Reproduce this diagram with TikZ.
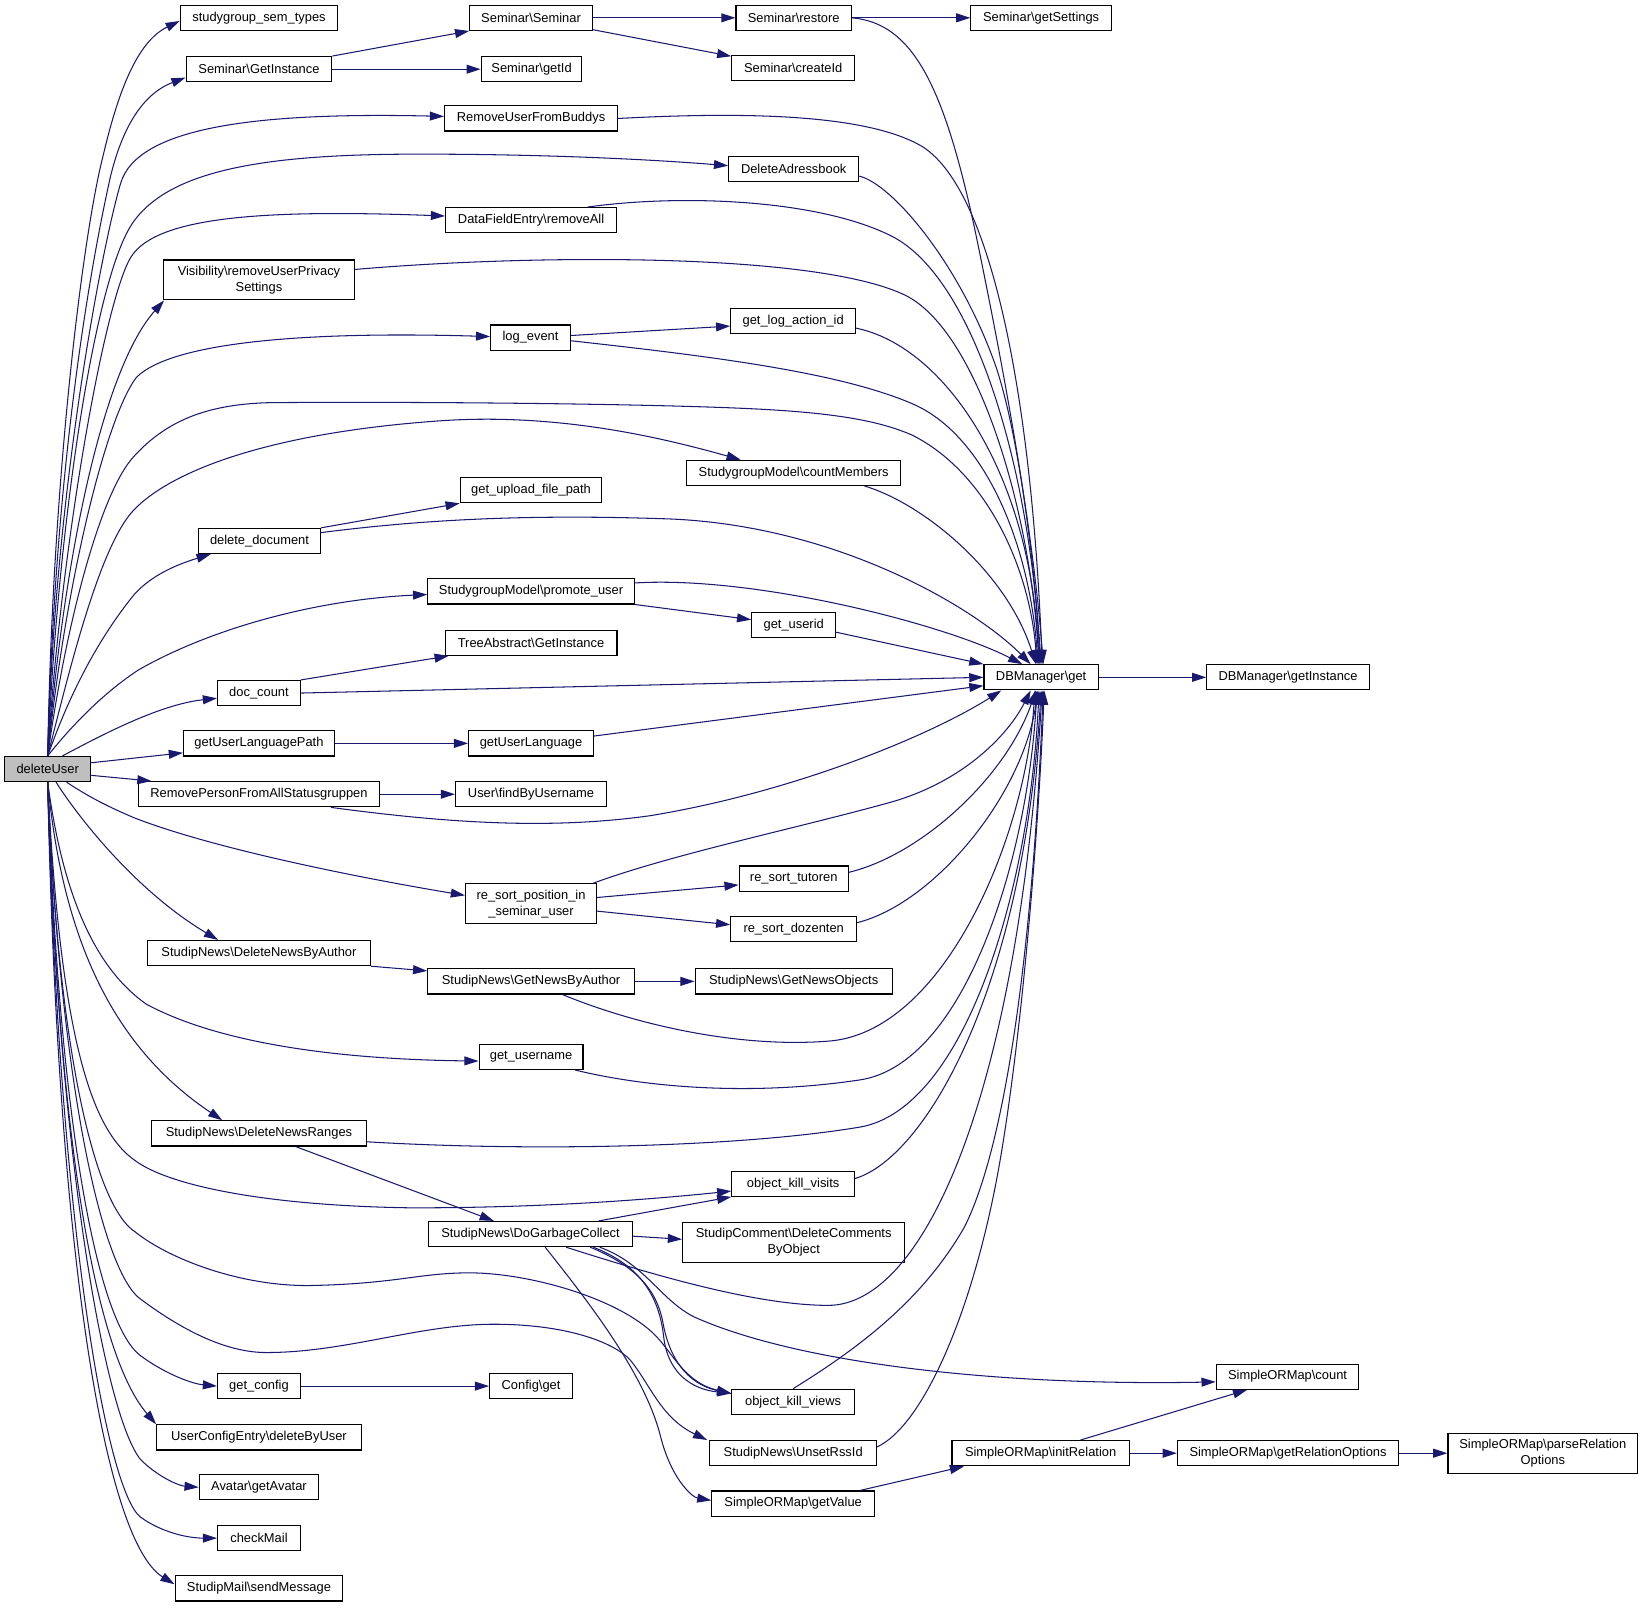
\documentclass[tikz,border=0pt]{standalone}
\usepackage{fontspec}
\setmainfont{Liberation Sans}
\usetikzlibrary{arrows.meta}
\definecolor{callblue}{HTML}{191970}
\definecolor{rootgray}{HTML}{BFBFBF}
\newcommand{\bsl}{\textbackslash}
\tikzstyle{fn}=[rectangle,draw=black,line width=1.1pt,fill=white,align=center,font=\fontsize{12.3}{15}\selectfont,minimum height=24pt,inner sep=0pt]
\tikzstyle{fntwo}=[fn,minimum height=38pt]
\tikzstyle{call}=[->,draw=callblue,line width=1pt]

\begin{document}
\begin{tikzpicture}[x=1pt,y=-1pt,>={Triangle[length=13.5pt,width=8.5pt]}]
	\useasboundingbox (0,0) rectangle (1568,1534);

	% Root
	\node[fn,minimum width=82pt,fill=rootgray] (du) at (45.5,733.5) {deleteUser};

	% Level 1
	\node[fn,minimum width=150pt] (sgt) at (247,17) {studygroup\_sem\_types};
	\node[fn,minimum width=139pt] (sgi) at (247,66) {Seminar\bsl GetInstance};
	\node[fntwo,minimum width=182pt] (vis) at (247,267) {Visibility\bsl removeUserPrivacy\\Settings};
	\node[fn,minimum width=116pt] (deldoc) at (247.5,516) {delete\_document};
	\node[fn,minimum width=79pt] (doccnt) at (247,661) {doc\_count};
	\node[fn,minimum width=144pt] (ulp) at (247,709) {getUserLanguagePath};
	\node[fn,minimum width=230pt] (rpfa) at (247,757.5) {RemovePersonFromAllStatusgruppen};
	\node[fn,minimum width=213pt] (dnba) at (247,909) {StudipNews\bsl DeleteNewsByAuthor};
	\node[fn,minimum width=205pt] (dnr) at (247,1081) {StudipNews\bsl DeleteNewsRanges};
	\node[fn,minimum width=79pt] (gcfg) at (247,1322) {get\_config};
	\node[fn,minimum width=195pt] (uce) at (247,1371) {UserConfigEntry\bsl deleteByUser};
	\node[fn,minimum width=114pt] (avatar) at (247,1418.5) {Avatar\bsl getAvatar};
	\node[fn,minimum width=79pt] (chkmail) at (247,1467) {checkMail};
	\node[fn,minimum width=160pt] (sendmsg) at (247,1515) {StudipMail\bsl sendMessage};

	% Level 2
	\node[fn,minimum width=117pt] (ssem) at (506.5,17) {Seminar\bsl Seminar};
	\node[fn,minimum width=96pt] (sgetid) at (507,66) {Seminar\bsl getId};
	\node[fn,minimum width=165pt] (rufb) at (506.5,113) {RemoveUserFromBuddys};
	\node[fn,minimum width=163pt] (dfe) at (506.5,210) {DataFieldEntry\bsl removeAll};
	\node[fn,minimum width=76pt] (logev) at (506,322) {log\_event};
	\node[fn,minimum width=135pt] (ufp) at (506.5,467.5) {get\_upload\_file\_path};
	\node[fn,minimum width=197pt] (promote) at (506.5,564) {StudygroupModel\bsl promote\_user};
	\node[fn,minimum width=164pt] (tagi) at (506.5,613) {TreeAbstract\bsl GetInstance};
	\node[fn,minimum width=119pt] (ulang) at (506.5,709) {getUserLanguage};
	\node[fn,minimum width=144pt] (findu) at (506.5,757.5) {User\bsl findByUsername};
	\node[fntwo,minimum width=125pt] (rsp) at (506.5,862) {re\_sort\_position\_in\\\_seminar\_user};
	\node[fn,minimum width=197pt] (gnba) at (506.5,936) {StudipNews\bsl GetNewsByAuthor};
	\node[fn,minimum width=99pt] (guser) at (506.5,1008) {get\_username};
	\node[fn,minimum width=194pt] (dogc) at (506,1177) {StudipNews\bsl DoGarbageCollect};
	\node[fn,minimum width=79pt] (cfgget) at (506.5,1322) {Config\bsl get};

	% Level 3
	\node[fn,minimum width=110pt] (srest) at (757,17) {Seminar\bsl restore};
	\node[fn,minimum width=117pt] (screate) at (756.5,65) {Seminar\bsl createId};
	\node[fn,minimum width=124pt] (dab) at (757,161) {DeleteAdressbook};
	\node[fn,minimum width=119pt] (logact) at (756.5,306) {get\_log\_action\_id};
	\node[fn,minimum width=204pt] (cntmem) at (757,451) {StudygroupModel\bsl countMembers};
	\node[fn,minimum width=80pt] (guid) at (757,596) {get\_userid};
	\node[fn,minimum width=104pt] (rstut) at (757,838) {re\_sort\_tutoren};
	\node[fn,minimum width=120pt] (rsdoz) at (757,886) {re\_sort\_dozenten};
	\node[fn,minimum width=188pt] (gno) at (757,936) {StudipNews\bsl GetNewsObjects};
	\node[fn,minimum width=117pt] (okvis) at (756.5,1129) {object\_kill\_visits};
	\node[fntwo,minimum width=212pt] (delcom) at (757,1185) {StudipComment\bsl DeleteComments\\ByObject};
	\node[fn,minimum width=117pt] (okview) at (756.5,1337) {object\_kill\_views};
	\node[fn,minimum width=159pt] (unset) at (756.5,1386) {StudipNews\bsl UnsetRssId};
	\node[fn,minimum width=155pt] (getval) at (756.5,1434) {SimpleORMap\bsl getValue};

	% Level 4 and beyond
	\node[fn,minimum width=134pt] (getset) at (993,17) {Seminar\bsl getSettings};
	\node[fn,minimum width=109pt] (dbget) at (993,646) {DBManager\bsl get};
	\node[fn,minimum width=169pt] (initrel) at (992.5,1386) {SimpleORMap\bsl initRelation};
	\node[fn,minimum width=155pt] (dbinst) at (1228.5,646) {DBManager\bsl getInstance};
	\node[fn,minimum width=136pt] (ormcnt) at (1228,1313) {SimpleORMap\bsl count};
	\node[fn,minimum width=211pt] (relopt) at (1228.5,1386) {SimpleORMap\bsl getRelationOptions};
	\node[fntwo,minimum width=181pt] (parserel) at (1471.5,1386) {SimpleORMap\bsl parseRelation\\Options};

	% deleteUser, upwards
	\draw[call] (du.north) .. controls (50,450) and (80,220) .. (98,150) .. controls (112,90) and (130,40) .. ([yshift=-3pt]sgt.west);
	\draw[call] (du.north) .. controls (52,450) and (85,260) .. (105,170) .. controls (118,115) and (140,88) .. ([yshift=-8pt]sgi.west);
	\draw[call] (du.north) .. controls (52,470) and (97,236) .. (115,175) .. controls (131,120) and (250,107) .. ([yshift=2pt]rufb.west);
	\draw[call] (du.north) .. controls (55,500) and (90,270) .. (125,215) .. controls (160,160) and (260,147) .. (400,147) .. controls (520,147) and (620,152) .. ([yshift=3pt]dab.west);
	\draw[call] (du.north) .. controls (58,520) and (100,285) .. (125,245) .. controls (150,205) and (260,200) .. ([yshift=4pt]dfe.west);
	\draw[call] (du.north) .. controls (62,520) and (100,350) .. ([xshift=1pt]vis.south west);
	\draw[call] (du.north) .. controls (62,560) and (100,400) .. (130,360) .. controls (165,325) and (300,316) .. ([yshift=1pt]logev.west);
	\draw[call] (du.north) .. controls (62,600) and (95,470) .. (128,435) .. controls (160,400) and (200,385) .. (260,384) .. controls (400,383) and (620,385) .. (720,390) .. controls (800,394) and (840,402) .. (870,415) .. controls (940,450) and (982,540) .. ([xshift=-4pt]dbget.north);
	\draw[call] (du.north) .. controls (66,640) and (95,520) .. (128,486) .. controls (165,448) and (260,412) .. (425,401) .. controls (540,394) and (640,420) .. ([xshift=52pt]cntmem.north west);
	\draw[call] (du.north) .. controls (60,680) and (85,620) .. (128,567) .. controls (145,548) and (170,538) .. ([xshift=12pt]deldoc.south west);
	\draw[call] (du.north) .. controls (70,690) and (100,660) .. (132,639) .. controls (200,600) and (300,572) .. ([yshift=-3pt]promote.west);
	\draw[call] ([xshift=14pt]du.north) .. controls (90,705) and (150,672) .. ([yshift=-5pt]doccnt.west);
	\draw[call] ([yshift=6pt]du.east) -- ([yshift=-9pt]ulp.west);
	\draw[call] ([yshift=-6pt]du.east) -- ([xshift=13pt]rpfa.north west);

	% deleteUser, downwards
	\draw[call] ([xshift=18pt]du.south) .. controls (85,760) and (100,768) .. (128,780) .. controls (200,808) and (330,835) .. ([yshift=8pt]rsp.west);
	\draw[call] ([xshift=8pt]du.south) .. controls (75,780) and (130,850) .. ([xshift=68pt]dnba.north west);
	\draw[call] (du.south) .. controls (58,840) and (85,920) .. (140,958) .. controls (200,990) and (300,1010) .. ([yshift=-4pt]guser.west);
	\draw[call] (du.south) .. controls (60,900) and (110,1000) .. ([xshift=68pt]dnr.north west);
	\draw[call] (du.south) .. controls (58,1000) and (90,1080) .. (129,1107) .. controls (160,1130) and (250,1150) .. (393,1152) .. controls (520,1152) and (620,1144) .. ([yshift=-7pt]okvis.west);
	\draw[call] (du.south) .. controls (55,1000) and (90,1150) .. (129,1175) .. controls (160,1200) and (230,1228) .. (300,1226) .. controls (380,1224) and (400,1214) .. (448,1214) .. controls (500,1214) and (580,1235) .. (619,1268) .. controls (640,1285) and (650,1318) .. ([yshift=8pt]okview.west);
	\draw[call] (du.south) .. controls (58,1050) and (100,1215) .. (134,1239) .. controls (165,1262) and (210,1290) .. (254,1290) .. controls (330,1290) and (400,1263) .. (471,1263) .. controls (540,1263) and (585,1280) .. (601,1297) .. controls (620,1320) and (630,1352) .. ([xshift=-2pt]unset.north west);
	\draw[call] (du.south) .. controls (55,1050) and (90,1260) .. (134,1293) .. controls (160,1312) and (185,1320) .. (gcfg.west);
	\draw[call] (du.south) .. controls (55,1080) and (90,1290) .. (uce.north west);
	\draw[call] (du.south) .. controls (55,1100) and (100,1350) .. (134,1392) .. controls (150,1408) and (170,1417) .. (avatar.west);
	\draw[call] (du.south) .. controls (55,1150) and (100,1420) .. (134,1447) .. controls (155,1462) and (180,1467) .. (chkmail.west);
	\draw[call] (du.south) .. controls (55,1200) and (100,1470) .. ([yshift=4pt]sendmsg.west);

	% Seminar
	\draw[call] (sgi.north east) -- (ssem.south west);
	\draw[call] (sgi) -- (sgetid);
	\draw[call] (ssem) -- (srest);
	\draw[call] (ssem) -- (screate);
	\draw[call] (srest) -- (getset);

	% Level 1 to level 2
	\draw[call] (deldoc.north east) -- (ufp.south west);
	\draw[call] (promote.south east) -- ([yshift=5pt]guid.west);
	\draw[call] (doccnt.north east) -- ([xshift=4pt]tagi.south west);
	\draw[call] (ulp) -- (ulang);
	\draw[call] (rpfa) -- (findu);
	\draw[call] ([yshift=2pt]logev.east) -- ([yshift=-5pt]logact.west);
	\draw[call] ([yshift=6pt]rsp.east) -- ([yshift=-6pt]rstut.west);
	\draw[call] ([yshift=-7pt]rsp.east) -- ([yshift=4pt]rsdoz.west);
	\draw[call] (dnba.south east) -- ([yshift=10pt]gnba.west);
	\draw[call] (gnba) -- (gno);
	\draw[call] ([xshift=35pt]dnr.south) -- ([xshift=-35pt]dogc.north);
	\draw[call] (gcfg) -- (cfgget);

	% DoGarbageCollect
	\draw[call] ([xshift=65pt]dogc.north) -- (okvis.south west);
	\draw[call] ([yshift=-2pt]dogc.east) -- ([yshift=3pt]delcom.west);
	\draw[call] ([xshift=57pt]dogc.south) .. controls (600,1205) and (625,1225) .. (632,1260) .. controls (638,1295) and (655,1320) .. ([yshift=8pt]okview.west);
	\draw[call] ([xshift=60pt]dogc.south) .. controls (605,1205) and (628,1230) .. (633,1275) .. controls (637,1310) and (660,1325) .. ([yshift=8pt]okview.west);
	\draw[call] ([xshift=66pt]dogc.south) .. controls (615,1205) and (630,1240) .. (662,1256) .. controls (760,1300) and (950,1322) .. ([yshift=-5pt]ormcnt.west);
	\draw[call] ([xshift=14pt]dogc.south) .. controls (560,1240) and (615,1310) .. (630,1370) .. controls (640,1410) and (660,1428) .. ([yshift=3pt]getval.west);

	% SimpleORMap
	\draw[call] ([xshift=-14pt]getval.north east) -- ([xshift=12pt]initrel.south west);
	\draw[call] ([xshift=38pt]initrel.north) -- ([xshift=30pt]ormcnt.south west);
	\draw[call] (initrel) -- (relopt);
	\draw[call] (relopt) -- (parserel);

	% DBManager, from above
	\draw[call] (srest.east) .. controls (870,22) and (900,80) .. (930,220) .. controls (955,340) and (985,500) .. ([xshift=2pt]dbget.north);
	\draw[call] (rufb.east) .. controls (720,106) and (830,110) .. (880,140) .. controls (950,185) and (985,400) .. ([xshift=1pt]dbget.north);
	\draw[call] ([yshift=-7pt]dab.east) .. controls (850,175) and (915,250) .. (950,350) .. controls (970,410) and (985,520) .. (dbget.north);
	\draw[call] ([xshift=-28pt]dfe.north east) .. controls (650,185) and (780,190) .. (850,225) .. controls (930,265) and (983,450) .. ([xshift=-1pt]dbget.north);
	\draw[call] ([yshift=10pt]vis.east) .. controls (500,243) and (770,240) .. (860,280) .. controls (930,310) and (982,480) .. ([xshift=-2pt]dbget.north);
	\draw[call] ([yshift=-3pt]logev.east) .. controls (680,340) and (800,355) .. (870,385) .. controls (940,415) and (982,520) .. ([xshift=-3pt]dbget.north);
	\draw[call] ([yshift=-7pt]logact.east) .. controls (900,330) and (983,450) .. ([xshift=-2pt]dbget.north);
	\draw[call] ([xshift=-35pt]cntmem.south east) .. controls (880,480) and (960,545) .. ([xshift=-5pt]dbget.north);
	\draw[call] ([yshift=8pt]deldoc.east) .. controls (400,496) and (500,490) .. (640,495) .. controls (800,502) and (930,580) .. ([xshift=-10pt]dbget.north);
	\draw[call] ([yshift=8pt]promote.east) .. controls (720,549) and (900,595) .. ([xshift=-18pt]dbget.north);
	\draw[call] ([yshift=-7pt]guid.east) -- (dbget.north west);
	\draw[call] (doccnt.east) -- (dbget.west);
	\draw[call] ([yshift=7pt]ulang.east) -- ([yshift=-8pt]dbget.west);

	% DBManager, from below
	\draw[call] ([xshift=-47pt]rpfa.south east) .. controls (420,784) and (520,792) .. (620,778) .. controls (760,755) and (890,700) .. ([xshift=-38pt]dbget.south);
	\draw[call] ([xshift=-4pt]rsp.north east) .. controls (640,815) and (760,790) .. (850,765) .. controls (920,745) and (962,700) .. ([xshift=-10pt]dbget.south);
	\draw[call] ([yshift=6pt]rstut.east) .. controls (880,815) and (960,740) .. ([xshift=-5pt]dbget.south);
	\draw[call] ([yshift=6pt]rsdoz.east) .. controls (890,862) and (975,760) .. ([xshift=-3pt]dbget.south);
	\draw[call] ([xshift=30pt]gnba.south) .. controls (600,975) and (700,1000) .. (790,993) .. controls (900,985) and (978,800) .. ([xshift=-6pt]dbget.south);
	\draw[call] ([xshift=-8pt]guser.south east) .. controls (620,1038) and (720,1045) .. (820,1030) .. controls (920,1015) and (980,820) .. ([xshift=-4pt]dbget.south);
	\draw[call] ([yshift=-8pt]dnr.east) .. controls (500,1098) and (700,1095) .. (820,1075) .. controls (920,1058) and (982,850) .. ([xshift=-2pt]dbget.south);
	\draw[call] ([yshift=5pt]okvis.east) .. controls (880,1105) and (975,950) .. (dbget.south);
	\draw[call] ([xshift=34pt]dogc.south) .. controls (620,1215) and (720,1245) .. (790,1245) .. controls (880,1245) and (970,1050) .. ([xshift=1pt]dbget.south);
	\draw[call] (okview.north) .. controls (820,1285) and (880,1240) .. (920,1170) .. controls (960,1090) and (985,900) .. ([xshift=2pt]dbget.south);
	\draw[call] ([yshift=6pt]unset.east) .. controls (880,1360) and (930,1250) .. (955,1100) .. controls (975,980) and (990,800) .. ([xshift=3pt]dbget.south);

	\draw[call] (dbget) -- (dbinst);
\end{tikzpicture}
\end{document}
